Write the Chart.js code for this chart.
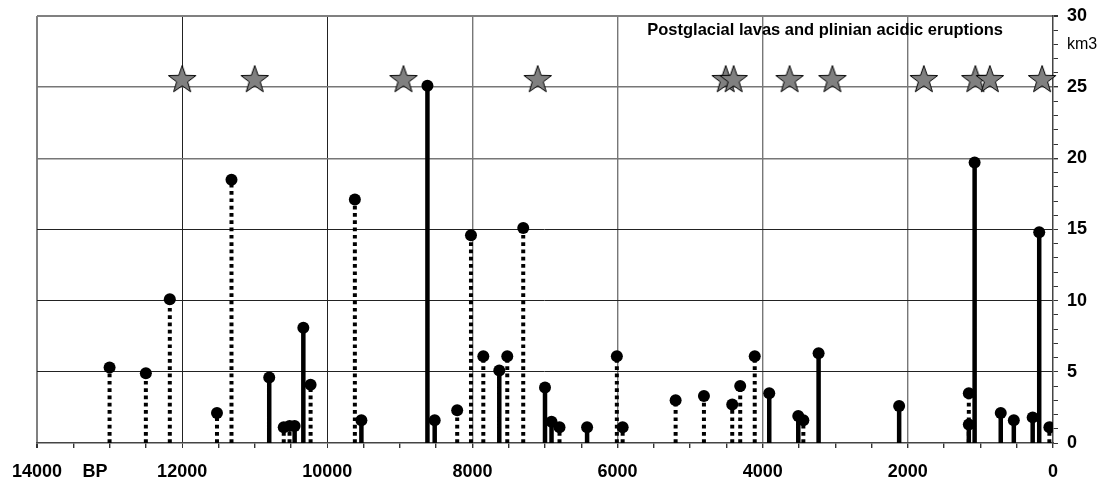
<!DOCTYPE html>
<html>
<head>
<meta charset="utf-8">
<script src="https://cdn.jsdelivr.net/npm/chart.js@4.4.1/dist/chart.umd.min.js"></script>
<style>
  html, body { margin: 0; padding: 0; background: #fff; }
  #wrap { width: 1106px; height: 485px; }
</style>
</head>
<body>
<div id="wrap"><canvas id="chart"></canvas></div>
<script>
// years BP and volumes (km3)
const lavaYears = [13000, 12500, 12170, 11520, 11320, 10600, 10520, 10230, 9620, 8210, 8020, 7850, 7520, 7300, 6800, 6010, 5930, 5200, 4810, 4420, 4310, 4110, 3440, 1160, 50];
const lavaVolumes = [5.3, 4.9, 10.1, 2.1, 18.5, 1.1, 1.2, 4.1, 17.1, 2.3, 14.6, 6.1, 6.1, 15.1, 1.1, 6.1, 1.1, 3.0, 3.3, 2.7, 4.0, 6.1, 1.6, 3.5, 1.1];

const plinianYears = [10800, 10450, 10330, 9530, 8620, 8520, 7630, 7000, 6910, 6420, 3910, 3510, 3230, 2120, 1160, 1080, 720, 540, 280, 190];
const plinianVolumes = [4.6, 1.2, 8.1, 1.6, 25.1, 1.6, 5.1, 3.9, 1.5, 1.1, 3.5, 1.9, 6.3, 2.6, 1.3, 19.7, 2.1, 1.6, 1.8, 14.8];

const starYears = [12000, 11000, 8950, 7100, 4510, 4400, 3630, 3040, 1780, 1070, 870, 150];
const starLevel = 25.5;

const chartTitle = 'Postglacial lavas and plinian acidic eruptions';
const yUnit = 'km3';
const xUnit = 'BP';

const FONT = '"Liberation Sans", Arial, sans-serif';

function stems(years, vols) {
    const pts = [];
    years.forEach((yr, i) => {
        pts.push({x: yr, y: 0});
        pts.push({x: yr, y: vols[i]});
        pts.push({x: yr, y: null});
    });
    return pts;
}

function tops(years, vols) {
    return years.map((yr, i) => ({x: yr, y: vols[i]}));
}

// grey five-point star used as point style
function makeStar() {
    const c = document.createElement('canvas');
    c.width = 32; c.height = 32;
    const g = c.getContext('2d');
    const R = 14.5, r = 5.8, cx = 16, cy = 16;
    g.beginPath();
    for (let k = 0; k < 10; k++) {
        const rad = k % 2 === 0 ? R : r;
        const a = -Math.PI / 2 + k * Math.PI / 5;
        const px = cx + rad * Math.cos(a);
        const py = cy + rad * Math.sin(a);
        if (k === 0) g.moveTo(px, py); else g.lineTo(px, py);
    }
    g.closePath();
    g.fillStyle = '#808080';
    g.fill();
    g.lineWidth = 1;
    g.strokeStyle = '#000';
    g.stroke();
    return c;
}

const textPlugin = {
    id: 'texts',
    afterDraw(chart) {
        const ctx = chart.ctx;
        const xs = chart.scales.x, ys = chart.scales.y;
        ctx.save();
        ctx.fillStyle = '#000';
        ctx.textAlign = 'center';
        ctx.textBaseline = 'middle';
        ctx.font = 'bold 16.5px ' + FONT;
        ctx.fillText(chartTitle, xs.getPixelForValue(3140), ys.getPixelForValue(29));
        ctx.font = 'bold 18px ' + FONT;
        ctx.fillText(xUnit, xs.getPixelForValue(13200), chart.chartArea.bottom + 29);
        ctx.restore();
    }
};

const ctx = document.getElementById('chart').getContext('2d');
new Chart(ctx, {
    type: 'scatter',
    data: {
        datasets: [
            {
                label: 'stars',
                data: starYears.map(yr => ({x: yr, y: starLevel})),
                pointStyle: makeStar(),
                pointRadius: 14,
                clip: false,
                order: 0
            },
            {
                label: 'tops',
                data: tops(lavaYears, lavaVolumes).concat(tops(plinianYears, plinianVolumes)),
                pointRadius: 6,
                pointBackgroundColor: '#000',
                pointBorderWidth: 0,
                order: 1
            },
            {
                label: 'plinian',
                data: stems(plinianYears, plinianVolumes),
                showLine: true,
                spanGaps: false,
                borderColor: '#000',
                borderWidth: 4.5,
                borderCapStyle: 'butt',
                pointRadius: 0,
                order: 2
            },
            {
                label: 'lavas',
                data: stems(lavaYears, lavaVolumes),
                showLine: true,
                spanGaps: false,
                borderColor: '#000',
                borderWidth: 4,
                borderDash: [3.7, 3.6],
                borderCapStyle: 'butt',
                pointRadius: 0,
                order: 3
            }
        ]
    },
    options: {
        responsive: true,
        maintainAspectRatio: false,
        animation: false,
        events: [],
        layout: { padding: { left: 37, top: 16, right: 0, bottom: 0 } },
        plugins: {
            legend: { display: false },
            tooltip: { enabled: false },
            title: { display: false }
        },
        scales: {
            x: {
                type: 'linear',
                reverse: true,
                min: 0,
                max: 14000,
                afterFit: s => { s.height = 42; s.paddingLeft = 0; s.paddingRight = 0; },
                border: { color: '#444', width: 1.5 },
                grid: {
                    color: c => {
                        const v = c.tick.value;
                        if (v === 14000) return '#808080';
                        if (v === 12000 || v === 10000) return '#222';
                        return v % 2000 === 0 && v !== 0 ? '#777' : 'transparent';
                    },
                    lineWidth: c => {
                        const v = c.tick.value;
                        if (v === 14000) return 2;
                        if (v === 12000 || v === 10000) return 1;
                        return 1.4;
                    },
                    tickColor: '#333',
                    tickLength: 5
                },
                ticks: {
                    stepSize: 500,
                    autoSkip: false,
                    maxRotation: 0,
                    padding: 13,
                    color: '#000',
                    font: { family: FONT, size: 18, weight: 'bold' },
                    callback: v => (v % 2000 === 0 ? String(v) : '')
                }
            },
            y: {
                position: 'right',
                min: 0,
                max: 30,
                afterFit: s => { s.width = 53; s.paddingTop = 0; s.paddingBottom = 0; },
                border: { color: '#444', width: 1.5 },
                grid: {
                    color: c => {
                        const v = c.tick.value;
                        if (v === 30) return '#808080';
                        if (v === 20 || v === 25) return '#777';
                        return v % 5 === 0 && v !== 0 ? '#222' : 'transparent';
                    },
                    lineWidth: c => {
                        const v = c.tick.value;
                        if (v === 30) return 2;
                        if (v === 20 || v === 25) return 1.4;
                        return 1;
                    },
                    tickColor: '#333',
                    tickLength: 5
                },
                ticks: {
                    stepSize: 1,
                    autoSkip: false,
                    padding: 9,
                    color: '#000',
                    font: c => (c.tick && c.tick.value === 28
                        ? { family: FONT, size: 16, weight: 'normal' }
                        : { family: FONT, size: 18, weight: 'bold' }),
                    callback: v => {
                        if (v === 28) return yUnit;
                        return v % 5 === 0 ? String(v) : '';
                    }
                }
            }
        }
    },
    plugins: [textPlugin]
});
</script>
</body>
</html>
